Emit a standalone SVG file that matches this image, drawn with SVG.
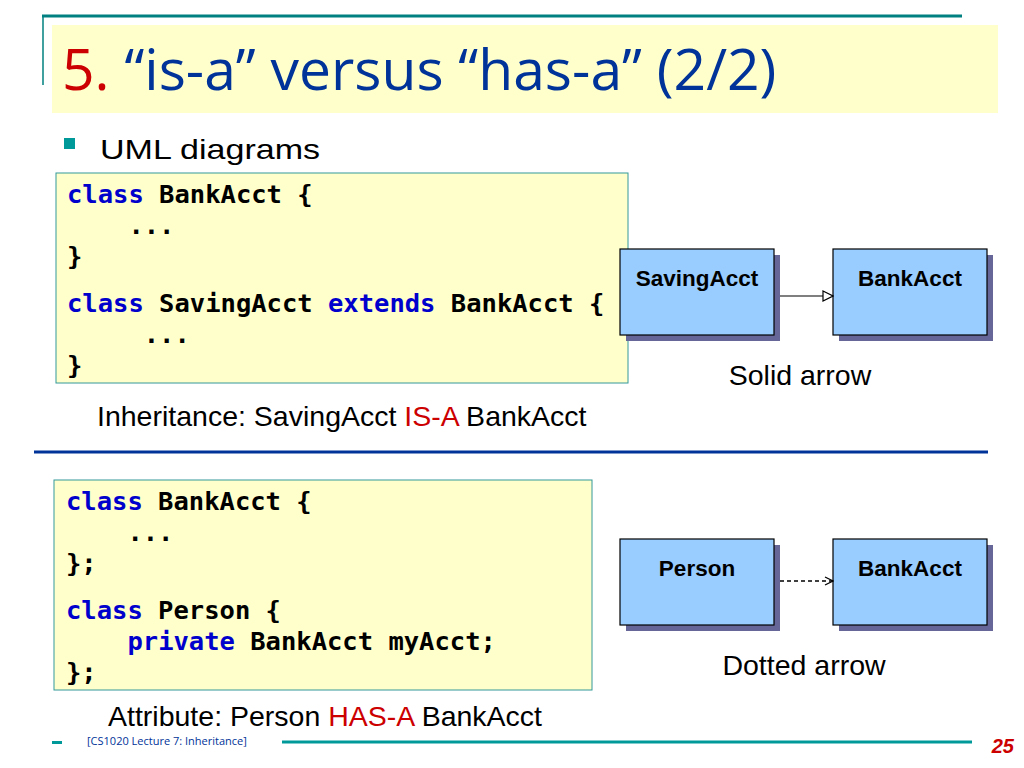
<svg xmlns="http://www.w3.org/2000/svg" width="1024" height="768" viewBox="0 0 1024 768">
<defs>
<marker id="tri" markerWidth="12" markerHeight="12" refX="11" refY="6" orient="auto" markerUnits="userSpaceOnUse"><path d="M1,1 L11,6 L1,11 Z" fill="#fff" stroke="#000" stroke-width="1.2"/></marker>
<marker id="open" markerWidth="10" markerHeight="10" refX="9" refY="5" orient="auto" markerUnits="userSpaceOnUse"><path d="M1,1 L9,5 L1,9" fill="none" stroke="#000" stroke-width="1.2"/></marker>
</defs>
<style>
.code{font-family:"DejaVu Sans Mono",monospace;font-size:25.5px;font-weight:bold;fill:#000;white-space:pre}
.kw{fill:#0000cc}
.box{fill:#ffffcc;stroke:#339999;stroke-width:1}
.node{fill:#99ccff;stroke:#000;stroke-width:1.2}
.sh{fill:#666699}
.nl{font-family:"Liberation Sans",Arial,sans-serif;font-size:22.5px;font-weight:bold;text-anchor:middle}
.t{font-family:"Liberation Sans",Arial,sans-serif;font-size:28.5px;fill:#000}
</style>
<rect width="1024" height="768" fill="#fff"/>
<line x1="42" y1="16" x2="962" y2="16" stroke="#008080" stroke-width="3"/>
<line x1="43" y1="16" x2="43" y2="85" stroke="#008080" stroke-width="1.5"/>
<rect x="52" y="25" width="946" height="88" fill="#ffffcc"/>
<text x="62" y="90" font-family="Open Sans,sans-serif" font-size="57" fill="#003399"><tspan fill="#cc0000">5.</tspan> “is-a” versus “has-a” (2/2)</text>
<rect x="64" y="138" width="11" height="11" fill="#009999"/>
<text x="100" y="159" class="t" font-size="34" textLength="220" lengthAdjust="spacingAndGlyphs">UML diagrams</text>

<rect x="56" y="173" width="572" height="210" class="box"/>
<text class="code" xml:space="preserve"><tspan x="67" y="203"><tspan class="kw">class</tspan> BankAcct {</tspan><tspan x="67" y="234">    ...</tspan><tspan x="67" y="265">}</tspan><tspan x="67" y="312"><tspan class="kw">class</tspan> SavingAcct <tspan class="kw">extends</tspan> BankAcct {</tspan><tspan x="67" y="343">     ...</tspan><tspan x="67" y="374">}</tspan></text>
<text x="97" y="426" class="t">Inheritance: SavingAcct <tspan fill="#cc0000">IS-A</tspan> BankAcct</text>

<line x1="34" y1="452" x2="988" y2="452" stroke="#003399" stroke-width="3"/>

<rect x="54" y="480" width="538" height="210" class="box"/>
<text class="code" xml:space="preserve"><tspan x="66" y="510"><tspan class="kw">class</tspan> BankAcct {</tspan><tspan x="66" y="541">    ...</tspan><tspan x="66" y="572">};</tspan><tspan x="66" y="619"><tspan class="kw">class</tspan> Person {</tspan><tspan x="66" y="650">    <tspan class="kw">private</tspan> BankAcct myAcct;</tspan><tspan x="66" y="681">};</tspan></text>
<text x="108" y="726" class="t">Attribute: Person <tspan fill="#cc0000">HAS-A</tspan> BankAcct</text>

<g id="savingacct"><rect x="626" y="255" width="154" height="86" class="sh"/><rect x="620" y="249" width="154" height="86" class="node"/><text x="697" y="286" class="nl">SavingAcct</text></g>
<g id="bankacct1"><rect x="839" y="255" width="154" height="86" class="sh"/><rect x="833" y="249" width="154" height="86" class="node"/><text x="910" y="286" class="nl">BankAcct</text></g>
<g id="person"><rect x="626" y="545" width="154" height="86" class="sh"/><rect x="620" y="539" width="154" height="86" class="node"/><text x="697" y="576" class="nl">Person</text></g>
<g id="bankacct2"><rect x="839" y="545" width="154" height="86" class="sh"/><rect x="833" y="539" width="154" height="86" class="node"/><text x="910" y="576" class="nl">BankAcct</text></g>
<g id="connectors">
<line x1="780" y1="296" x2="833" y2="296" stroke="#000" stroke-width="1.2" marker-end="url(#tri)"/>
<line x1="780" y1="581" x2="833" y2="581" stroke="#000" stroke-width="1.5" stroke-dasharray="4,3" marker-end="url(#open)"/>
</g>
<text x="800" y="385" class="t" text-anchor="middle">Solid arrow</text>
<text x="804" y="675" class="t" text-anchor="middle">Dotted arrow</text>

<rect x="52" y="741" width="10" height="3" fill="#009999"/>
<text x="87" y="745" font-family="Open Sans,sans-serif" font-size="11" fill="#003399">[CS1020 Lecture 7: Inheritance]</text>
<line x1="282" y1="742" x2="972" y2="742" stroke="#009999" stroke-width="3"/>
<text x="1014" y="753" font-family="Liberation Sans,sans-serif" font-size="20" font-weight="bold" font-style="italic" fill="#cc0000" text-anchor="end">25</text>
</svg>
